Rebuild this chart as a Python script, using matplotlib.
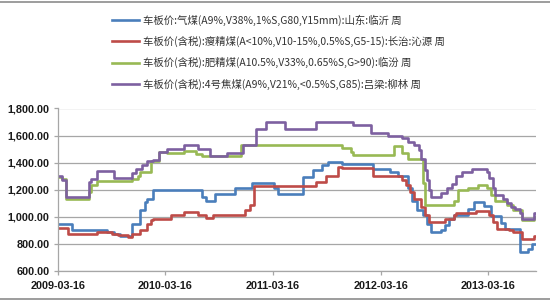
import numpy as np
import pandas as pd
import matplotlib
matplotlib.use("Agg")
import matplotlib.pyplot as plt
from matplotlib.lines import Line2D
from matplotlib.ticker import FuncFormatter

plt.rcParams['font.family'] = ['Noto Sans CJK SC', 'DejaVu Sans']

# weekly price series, given as (week number since 2009-03-16, price) step points
start = pd.Timestamp("2009-03-16")

blue_weeks = [0, 7, 24, 27, 30, 36, 40, 42, 43, 46, 70, 72, 76, 86, 94, 105, 107, 119, 124, 128,
              131, 138, 153, 161, 165, 170, 172, 174, 177, 179, 181, 186, 188, 190, 192, 199, 202,
              207, 210, 215, 217, 224, 228, 230, 232]
blue_vals = [950, 900, 887, 870, 856, 950, 1050, 1110, 1135, 1200, 1150, 1120, 1170, 1215, 1250, 1210,
             1170, 1295, 1345, 1380, 1405, 1390, 1355, 1330, 1305, 1210, 1120, 1050, 1010, 950, 888,
             905, 937, 987, 1010, 1060, 1110, 1080, 1005, 955, 912, 740, 765, 800, 800]

red_weeks = [0, 5, 19, 26, 29, 34, 36, 40, 43, 45, 46, 55, 61, 68, 72, 75, 91, 93, 95, 125, 130, 136,
             138, 153, 167, 169, 171, 173, 176, 178, 180, 188, 192, 193, 203, 209, 211, 213, 219, 221,
             225, 231, 232]
red_vals = [920, 870, 888, 875, 863, 850, 870, 905, 950, 975, 987, 1015, 1035, 1012, 995, 1015, 1048,
            1085, 1225, 1258, 1305, 1370, 1357, 1300, 1270, 1233, 1184, 1135, 1073, 1011, 962, 987,
            1011, 1030, 1043, 1011, 962, 912, 900, 887, 838, 858, 858]

green_weeks = [0, 2, 4, 15, 16, 19, 36, 39, 40, 45, 49, 53, 61, 67, 70, 89, 138, 142, 143, 163, 167,
               170, 177, 178, 192, 194, 199, 204, 208, 210, 212, 218, 221, 225, 231, 232]
green_vals = [1295, 1280, 1130, 1185, 1235, 1265, 1280, 1300, 1330, 1410, 1480, 1475, 1485, 1465, 1450,
              1530, 1505, 1480, 1460, 1520, 1470, 1430, 1250, 1085, 1120, 1200, 1215, 1235, 1210, 1160,
              1120, 1090, 1050, 980, 1000, 1000]

purple_weeks = [0, 2, 4, 15, 16, 19, 27, 36, 38, 41, 43, 46, 49, 53, 61, 68, 74, 82, 90, 96, 101, 110,
                125, 143, 152, 160, 167, 170, 173, 175, 176, 178, 179, 180, 181, 186, 189, 191, 193, 196,
                201, 208, 209, 211, 212, 216, 218, 220, 222, 224, 225, 231, 232]
purple_vals = [1300, 1270, 1150, 1260, 1280, 1340, 1290, 1320, 1350, 1380, 1410, 1420, 1480, 1500, 1530,
               1500, 1450, 1475, 1530, 1650, 1700, 1650, 1700, 1675, 1620, 1600, 1585, 1550, 1530, 1495,
               1430, 1345, 1270, 1200, 1150, 1175, 1210, 1245, 1305, 1330, 1355, 1330, 1285, 1210, 1160,
               1135, 1100, 1070, 1060, 1025, 985, 1030, 1030]

labels = [
    "车板价:气煤(A9%,V38%,1%S,G80,Y15mm):山东:临沂 周",
    "车板价(含税):瘦精煤(A<10%,V10-15%,0.5%S,G5-15):长治:沁源 周",
    "车板价(含税):肥精煤(A10.5%,V33%,0.65%S,G>90):临汾 周",
    "车板价(含税):4号焦煤(A9%,V21%,<0.5%S,G85):吕梁:柳林 周",
]
colors = ["#4a7ebb", "#be4b48", "#98b954", "#7d60a0"]

series = [(blue_weeks, blue_vals), (red_weeks, red_vals),
          (green_weeks, green_vals), (purple_weeks, purple_vals)]

fig = plt.figure(figsize=(5.5, 3.0), dpi=100)
ax = fig.add_axes([58 / 550, 1 - 271 / 300, (536 - 58) / 550, (271 - 108.5) / 300])

for (wk, vals), c, lab in zip(series, colors, labels):
    d = start + pd.to_timedelta(np.array(wk) * 7, unit="D")
    ax.plot(d, vals, drawstyle="steps-post", color=c, lw=1.9, label=lab)

ax.set_ylim(600, 1800)
ax.set_xlim(start, start + pd.Timedelta(days=232 * 7))
ax.set_yticks(np.arange(600, 1801, 200))
ax.yaxis.set_major_formatter(FuncFormatter(lambda v, p: f"{v:,.2f}"))
ticks = [pd.Timestamp(f"{y}-03-16") for y in range(2009, 2014)]
ax.set_xticks(ticks)
ax.set_xticklabels([t.strftime("%Y-%m-%d") for t in ticks])

ax.grid(axis="y", color="#a6a6a6", lw=0.9)
ax.set_axisbelow(True)
for s in ["top", "right"]:
    ax.spines[s].set_visible(False)
for s in ["left", "bottom"]:
    ax.spines[s].set_color("#a6a6a6")
    ax.spines[s].set_linewidth(0.9)
ax.tick_params(axis="both", colors="#a6a6a6", length=3, width=0.9, labelsize=7.8,
               labelcolor="#1a1a1a")
ax.tick_params(axis="x", pad=4)
ax.tick_params(axis="y", pad=3)
for t in ax.get_xticklabels() + ax.get_yticklabels():
    t.set_family(["Liberation Sans", "DejaVu Sans"])
    t.set_fontweight("bold")

fig.legend(loc="upper left", bbox_to_anchor=(108 / 550, 1 - 10 / 300), frameon=False,
           fontsize=7.5, handlelength=2.6, handletextpad=0.4, labelspacing=0.98,
           borderaxespad=0, labelcolor="#333333")

# thin gray frame lines at top and bottom of the image
fig.add_artist(Line2D([0, 1], [1 - 1.5 / 300, 1 - 1.5 / 300], color="#8c8c8c", lw=1.2))
fig.add_artist(Line2D([0, 1], [1.5 / 300, 1.5 / 300], color="#8c8c8c", lw=1.2))

fig.savefig("out.png", dpi=100)
